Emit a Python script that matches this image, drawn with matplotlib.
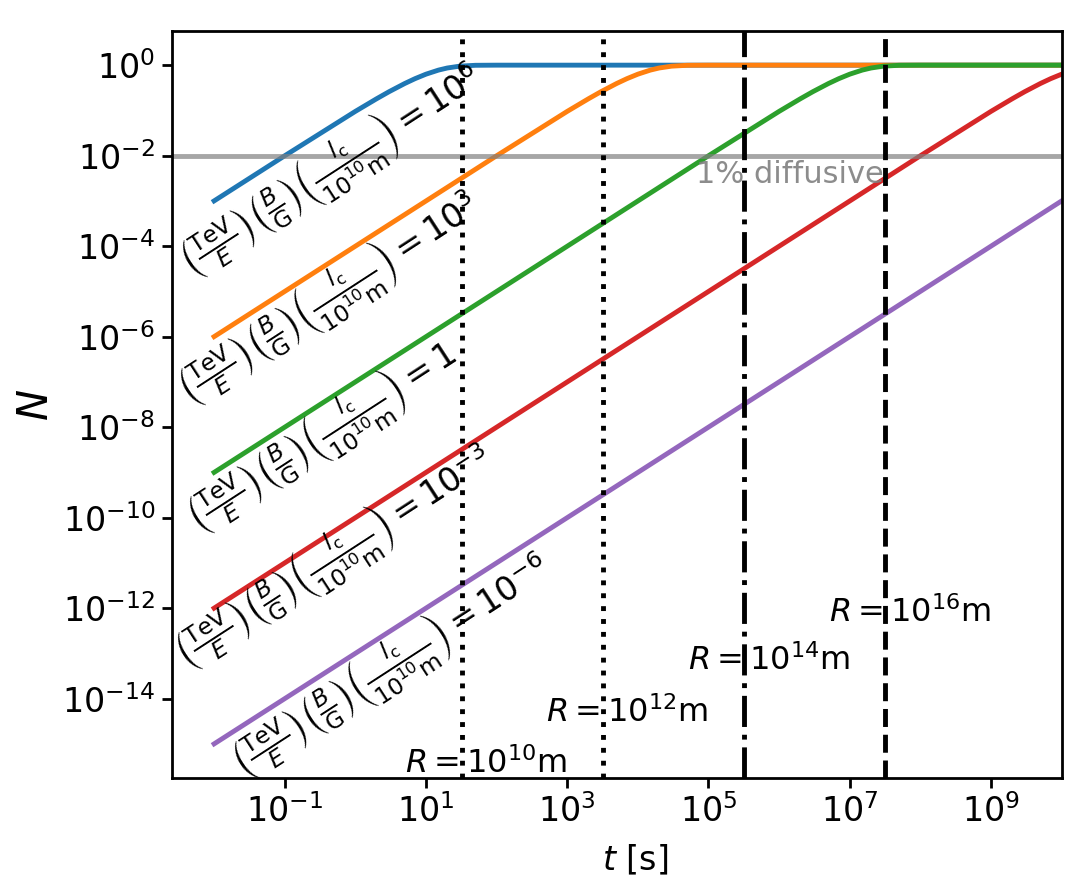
import matplotlib
matplotlib.use("Agg")
import matplotlib.pyplot as plt

# time samples (s) and fraction N for each normalisation
t_1e6 = [1e-2, 1e-1, 1, 2, 3, 5, 7, 10, 15, 20, 30, 50, 100, 1e10]
N_1e6 = [1e-3, 9.95e-3, 0.0952, 0.181, 0.259, 0.393, 0.503, 0.632, 0.777, 0.865, 0.950, 0.993, 1.0, 1.0]

t_1e3 = [1e-2, 1e2, 1e3, 2e3, 3e3, 5e3, 7e3, 1e4, 1.5e4, 2e4, 3e4, 5e4, 1e5, 1e10]
N_1e3 = [1e-6, 9.95e-3, 0.0952, 0.181, 0.259, 0.393, 0.503, 0.632, 0.777, 0.865, 0.950, 0.993, 1.0, 1.0]

t_1 = [1e-2, 1e5, 1e6, 2e6, 3e6, 5e6, 7e6, 1e7, 1.5e7, 2e7, 3e7, 5e7, 1e8, 1e10]
N_1 = [1e-9, 9.95e-3, 0.0952, 0.181, 0.259, 0.393, 0.503, 0.632, 0.777, 0.865, 0.950, 0.993, 1.0, 1.0]

t_1em3 = [1e-2, 1e8, 1e9, 2e9, 3e9, 5e9, 7e9, 1e10]
N_1em3 = [1e-12, 9.95e-3, 0.0952, 0.181, 0.259, 0.393, 0.503, 0.632]

t_1em6 = [1e-2, 1e10]
N_1em6 = [1e-15, 1e-3]

norm_labels = ["10^{6}", "10^{3}", "1", "10^{-3}", "10^{-6}"]

# light-crossing times R/c for the region sizes
R_exp = [10, 12, 14, 16]
t_cross = [3.2e1, 3.2e3, 3.2e5, 3.2e7]
R_styles = [":", ":", "-.", "--"]

plt.rcParams["mathtext.fontset"] = "dejavusans"

fig = plt.figure(figsize=(10.8, 8.92), dpi=100)
ax = fig.add_axes([0.159, 0.128, 0.824, 0.837])

series = [(t_1e6, N_1e6), (t_1e3, N_1e3), (t_1, N_1), (t_1em3, N_1em3), (t_1em6, N_1em6)]
for t, N in series:
    ax.plot(t, N, lw=3.5)

ax.set_xscale("log")
ax.set_yscale("log")
ax.set_xlim(right=1e10)

ax.axhline(1e-2, color="grey", alpha=0.7, lw=3.5)
ax.text(1.4e6, 0.8e-2, "1% diffusive", color="grey", alpha=0.9,
        ha="center", va="top", fontsize=22)

label_pos = [(10**-2.2, 10**-5.0), (10**-2.23, 10**-7.82), (10**-2.1, 10**-10.65),
             (10**-2.27, 10**-13.65), (10**-1.47, 10**-16.06)]
for lab, (x, y) in zip(norm_labels, label_pos):
    s = (r"$\left(\frac{\mathrm{TeV}}{E}\right)\left(\frac{B}{\mathrm{G}}\right)"
         r"\left(\frac{l_\mathrm{c}}{10^{10}\mathrm{m}}\right) = " + lab + "$")
    ax.text(x, y, s, rotation=33, rotation_mode="anchor", ha="left", va="bottom",
            fontsize=24, clip_on=False)

R_ys = [10**-15.64, 10**-14.52, 10**-13.37, 10**-12.31]
for e, tc, ls, yy in zip(R_exp, t_cross, R_styles, R_ys):
    ax.axvline(tc, color="black", ls=ls, lw=3.5)
    ax.text(tc * 10**0.35, yy, r"$R = 10^{%d}$m" % e, ha="center", va="baseline", fontsize=23)

ax.minorticks_off()
ax.tick_params(labelsize=24, width=2, length=7, pad=5)
for sp in ax.spines.values():
    sp.set_linewidth(2)
ax.set_xlabel("$t$ [s]", fontsize=24, labelpad=10, x=0.521)
ax.set_ylabel("$N$", fontsize=30)

fig.savefig("out.png", dpi=100)
